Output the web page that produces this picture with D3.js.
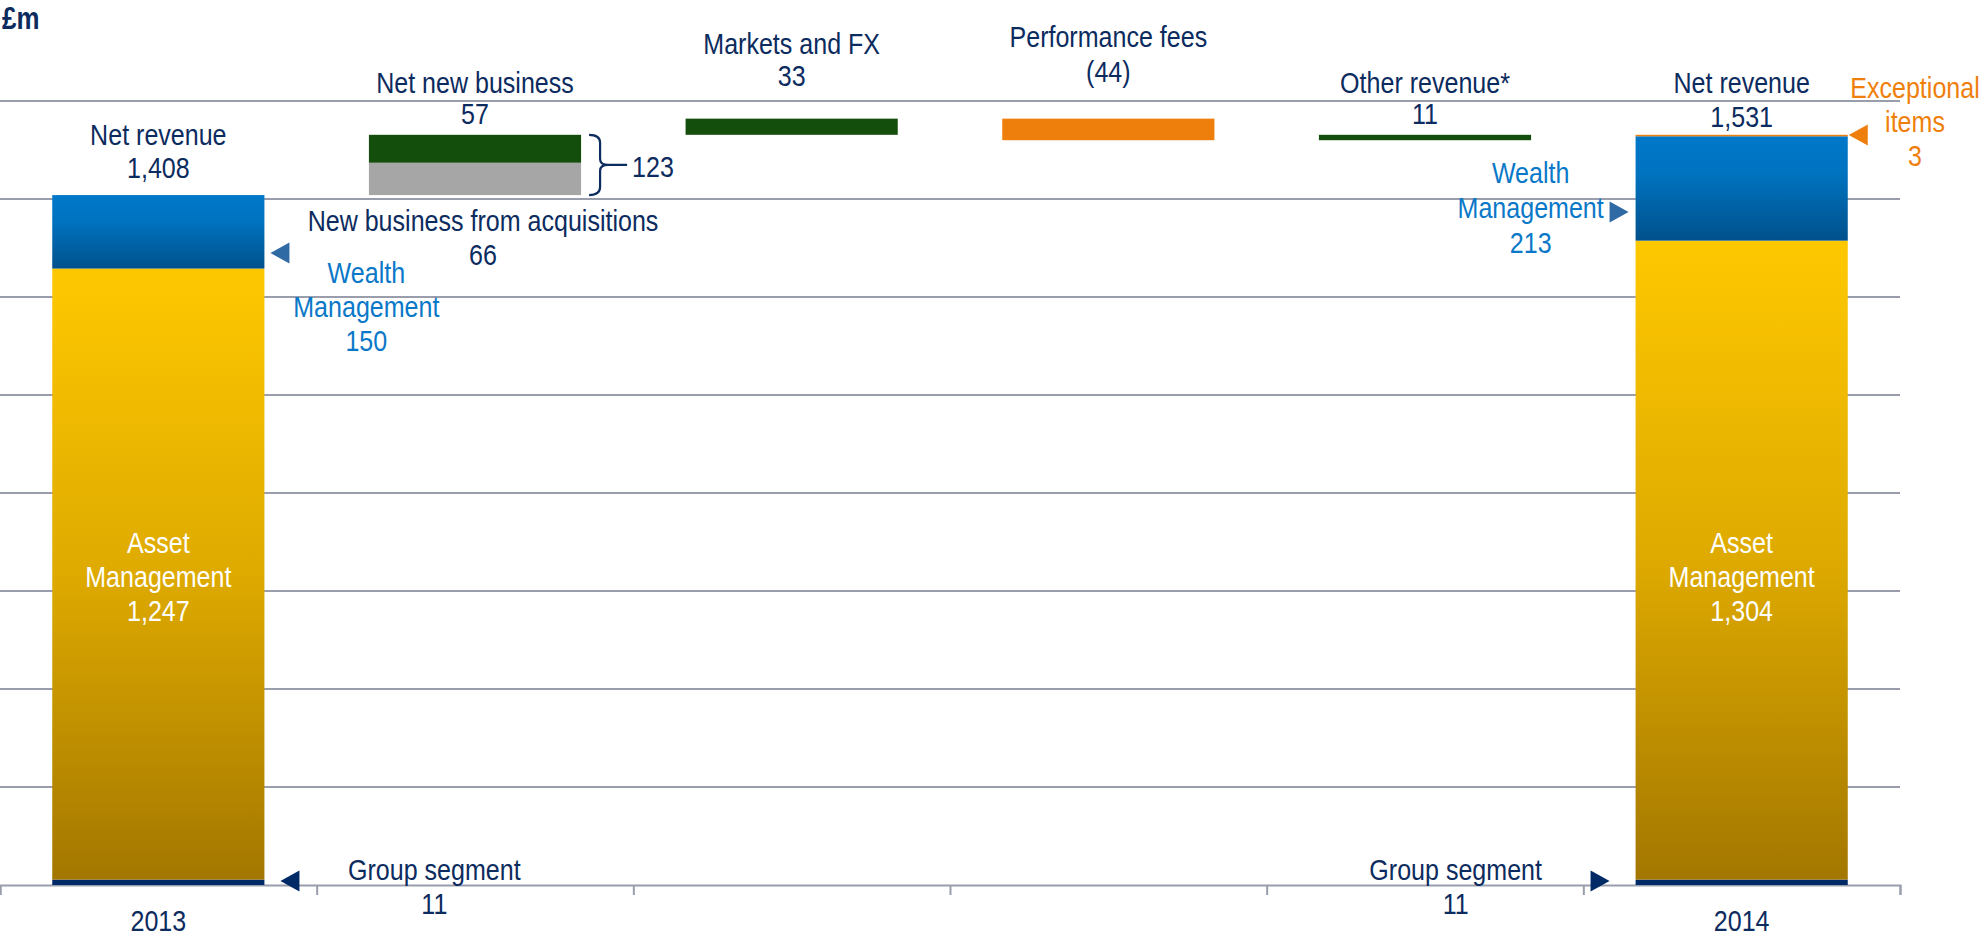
<!DOCTYPE html>
<html><head><meta charset="utf-8">
<script src="https://cdn.jsdelivr.net/npm/d3@7"></script>
<style>
html,body{margin:0;padding:0;background:#fff;overflow:hidden}
svg{display:block}
text{font-family:"Liberation Sans",Arial,sans-serif;}
</style></head><body><svg id="c" width="1980" height="937"></svg>
<script>
// ---- data ----
const categories = ["2013","Net new business","Markets and FX","Performance fees","Other revenue*","2014"];
const years = ["2013","2014"];
const stackKeys = ["Group segment","Asset Management","Wealth Management","Exceptional items"];
const groupSegment = [11, 11];
const assetManagement = [1247, 1304];
const wealthManagement = [150, 213];
const exceptionalItems = [0, 3];
const netNewBusiness = 57;
const newBusinessAcquisitions = 66;
const marketsFX = 33;
const performanceFees = -44;
const otherRevenue = 11;
const yTickValues = [0,200,400,600,800,1000,1200,1400,1600];

// ---- setup ----
const svg = d3.select("#c");
const navy = "#0c2b5e", lightBlue = "#0a78c8", orange = "#ef7f0c", green = "#144e0c", grey = "#a6a6a6";
const x = d3.scaleBand().domain(categories).range([0,1900]).padding(0);
const y = d3.scaleLinear().domain([0,1600]).range([885,101]);
const bw = x.bandwidth(), barW = bw*0.67;
const bx = c => x(c) + (bw-barW)/2;
const cx = c => x(c) + bw/2;
const fmt = d3.format(",");
const fmtV = v => v < 0 ? "(" + fmt(-v) + ")" : fmt(v);

const defs = svg.append("defs");
function grad(id, stops){
  const g = defs.append("linearGradient").attr("id",id).attr("x1",0).attr("y1",0).attr("x2",0).attr("y2",1);
  stops.forEach(s=>g.append("stop").attr("offset",s[0]).attr("stop-color",s[1]));
}
grad("gold", [[0,"#fec800"],[0.5,"#deaa00"],[1,"#a37700"]]);
grad("blue", [[0,"#0078c9"],[0.35,"#0073c0"],[1,"#00518c"]]);

// gridlines
svg.append("g").selectAll("line").data(yTickValues.filter(d=>d>0)).join("line")
  .attr("x1",0).attr("x2",1900).attr("y1",d=>y(d)).attr("y2",d=>y(d))
  .attr("stroke","#9a9eac").attr("stroke-width",2);

// axis baseline with ticks at band boundaries
const axis = d3.axisBottom(d3.scaleLinear().domain([0,categories.length]).range([0,1900]))
  .tickValues(d3.range(categories.length+1)).tickSize(10).tickFormat("");
const ax = svg.append("g").attr("transform",`translate(0,${y(0)})`).call(axis);
ax.selectAll("path,line").attr("stroke","#9a9eac").attr("stroke-width",2);

// stacked year bars
const rows = years.map((yr,i)=>({year:yr,"Group segment":groupSegment[i],"Asset Management":assetManagement[i],"Wealth Management":wealthManagement[i],"Exceptional items":exceptionalItems[i]}));
const series = d3.stack().keys(stackKeys)(rows);
const fills = {"Group segment":"#002a66","Asset Management":"url(#gold)","Wealth Management":"url(#blue)","Exceptional items":orange};
svg.append("g").selectAll("g").data(series).join("g").attr("fill",s=>fills[s.key])
  .selectAll("rect").data(s=>s).join("rect")
  .attr("x",d=>bx(d.data.year)).attr("width",barW)
  .attr("y",d=>y(d[1])).attr("height",d=>y(d[0])-y(d[1]));

// bridge bars
const start = d3.sum([groupSegment[0],assetManagement[0],wealthManagement[0],exceptionalItems[0]]);
const end = d3.sum([groupSegment[1],assetManagement[1],wealthManagement[1],exceptionalItems[1]]);
const bridge = [];
let run = start;
bridge.push({c:"Net new business", lo:run, hi:run+newBusinessAcquisitions, fill:grey});
run += newBusinessAcquisitions;
bridge.push({c:"Net new business", lo:run, hi:run+netNewBusiness, fill:green});
run += netNewBusiness;
[[ "Markets and FX", marketsFX],["Performance fees", performanceFees],["Other revenue*", otherRevenue]].forEach(([c,v])=>{
  bridge.push({c, lo:Math.min(run,run+v), hi:Math.max(run,run+v), fill: v<0?orange:green});
  run += v;
});
svg.append("g").selectAll("rect").data(bridge).join("rect")
  .attr("x",d=>bx(d.c)).attr("width",barW)
  .attr("y",d=>y(d.hi)).attr("height",d=>y(d.lo)-y(d.hi)).attr("fill",d=>d.fill);

// ---- labels (Arial-metric font, horizontally condensed to mimic a narrow face) ----
const narrow = 0.835;
function label(px, py, lines, opt={}){
  const t = svg.append("text").attr("transform",`translate(${px},${py}) scale(${narrow},1)`)
    .attr("text-anchor",opt.anchor||"middle").attr("fill",opt.fill||navy)
    .attr("font-size",opt.size||30).attr("font-weight",opt.weight||"normal");
  lines.forEach((l,i)=>t.append("tspan").attr("x",0).attr("dy",i?(opt.lh||33):0).text(l));
}
function tri(tipX, cy, dir, fill){
  const w = 19*dir, h = 10.5;
  svg.append("path").attr("d",`M${tipX},${cy} L${tipX+w},${cy-h} L${tipX+w},${cy+h} Z`).attr("fill",fill);
}

label(2, 29, ["£m"], {anchor:"start", weight:"bold", size:31});

const top2013 = y(start), top2014 = y(end);
label(cx("2013"), top2013-50, ["Net revenue", fmt(start)], {lh:33});
label(cx("Net new business"), y(start+newBusinessAcquisitions+netNewBusiness)-42, ["Net new business", fmtV(netNewBusiness)], {lh:31});
label(cx("Net new business")+8, y(start)+36, ["New business from acquisitions", fmtV(newBusinessAcquisitions)], {lh:34});
const afterNNB = start+newBusinessAcquisitions+netNewBusiness;
label(cx("Markets and FX"), y(afterNNB+marketsFX)-65, ["Markets and FX", fmtV(marketsFX)], {lh:32});
label(cx("Performance fees"), y(afterNNB+marketsFX)-72, ["Performance fees", fmtV(performanceFees)], {lh:35});
label(cx("Other revenue*"), y(afterNNB+marketsFX+performanceFees+otherRevenue)-42, ["Other revenue*", fmtV(otherRevenue)], {lh:31});
label(cx("2014"), top2014-42, ["Net revenue", fmt(end)], {lh:34});

// bracket + total
const bTop = y(afterNNB), bBot = y(start), bMid = (bTop+bBot)/2, bx0 = bx("Net new business")+barW+8;
svg.append("path").attr("fill","none").attr("stroke",navy).attr("stroke-width",2.2)
  .attr("d",`M${bx0},${bTop} Q${bx0+11},${bTop} ${bx0+11},${bTop+8} L${bx0+11},${bMid-6} Q${bx0+11},${bMid} ${bx0+19},${bMid} Q${bx0+11},${bMid} ${bx0+11},${bMid+6} L${bx0+11},${bBot-8} Q${bx0+11},${bBot} ${bx0},${bBot} M${bx0+19},${bMid} L${bx0+38},${bMid}`);
label(bx0+43, bMid+12, [fmt(newBusinessAcquisitions+netNewBusiness)], {anchor:"start"});

// Wealth management
label(cx("2013")+208, 283, ["Wealth","Management", fmt(wealthManagement[0])], {fill:lightBlue, lh:34});
tri(bx("2013")+barW+6, 253, 1, "#2f6aa5");
label(cx("2014")-211, 183, ["Wealth","Management", fmt(wealthManagement[1])], {fill:lightBlue, lh:35});
tri(bx("2014")-7, 212, -1, "#2f6aa5");

// Asset management (inside bars)
[0,1].forEach(i=>label(cx(years[i]), 553, ["Asset","Management", fmt(assetManagement[i])], {fill:"#ffffff", lh:34}));

// Exceptional items
label(1915, 98, ["Exceptional","items", fmt(exceptionalItems[1])], {fill:orange, lh:34});
tri(bx("2014")+barW+1, 135, 1, orange);

// Group segment
label(cx("2013")+276, 880, ["Group segment", fmt(groupSegment[0])], {lh:34});
tri(bx("2013")+barW+16, 881, 1, "#002a66");
label(cx("2014")-286, 880, ["Group segment", fmt(groupSegment[1])], {lh:34});
tri(bx("2014")-26, 881, -1, "#002a66");

// year labels
years.forEach(yr=>label(cx(yr), 931, [yr]));
</script></body></html>
